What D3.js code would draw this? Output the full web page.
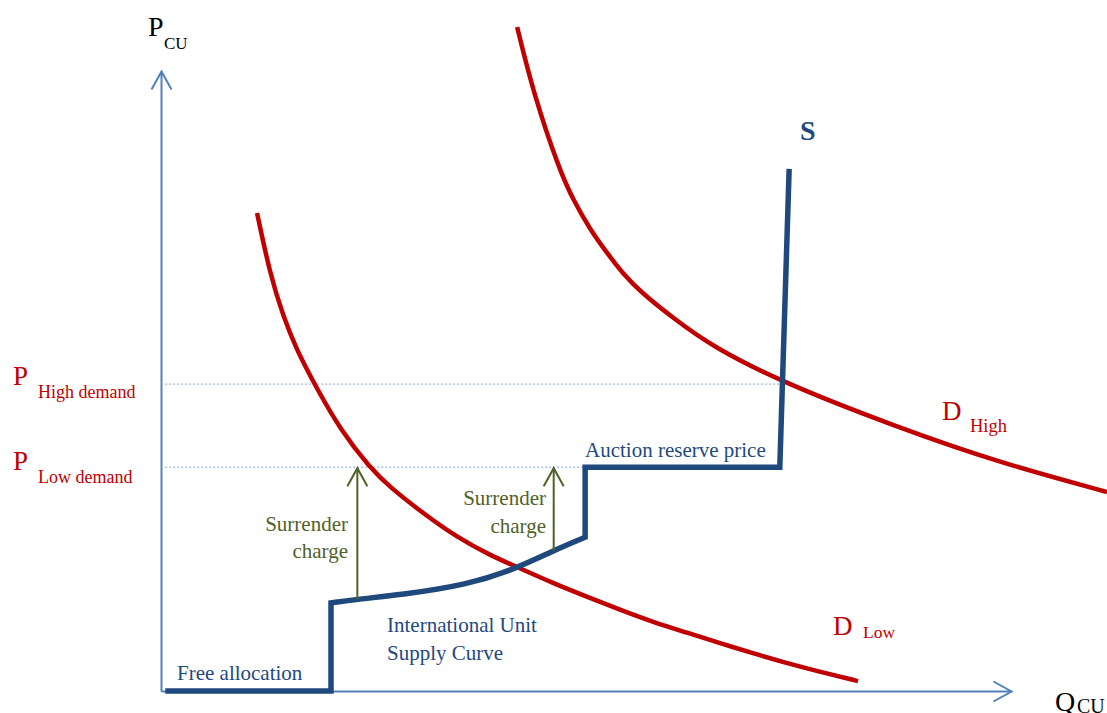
<!DOCTYPE html>
<html>
<head>
<meta charset="utf-8">
<script src="https://cdn.jsdelivr.net/npm/d3@7"></script>
<style>
  body { margin: 0; background: #fff; }
  svg { display: block; font-family: "Liberation Serif", "DejaVu Serif", serif; }
</style>
</head>
<body>
<svg id="chart" width="1107" height="713"></svg>
<script>
// demand curves (quantity, price) in chart units
const demandHigh = [[41.9,107.1],[43.8,96.5],[46.9,83.9],[48.5,79.2],[50.5,74.4],[52.5,70.6],
  [54.3,67.4],[56.4,64.4],[60.2,60.2],[64.9,55.5],[73.2,49.7],[86.9,42.4],[98.7,36.8],[111.3,32.1]];
const demandLow = [[11.3,77.1],[12.8,67.4],[14.4,60.3],[16.0,55.0],[17.2,51.8],[18.1,49.4],[21.1,42.1],
  [24.6,36.0],[26.9,32.9],[30.8,28.7],[34.8,24.8],[38.7,21.9],[42.2,19.8],[46.1,17.4],[50.1,15.2],
  [54.0,13.1],[57.9,11.1],[61.9,9.4],[65.8,7.7],[69.6,6.1],[73.6,4.5],[77.5,3.1],[82.0,1.6]];

// supply: free allocation step, international unit curve, auction reserve step
const freeAllocation = [[0.5,0],[20,0],[20,14.2]];
const intlSupply = [[20,14.2],[23.1,14.8],[28.1,15.5],[36,17.1],[41.9,19.8],[46.1,22.6],[49.9,24.8]];
const reserveStep = [[49.9,24.8],[49.9,36.1],[72.8,36.1],[73.9,84.2]];

// price levels and surrender charge arrows
const pHigh = 49.5, pLow = 36.1;
const guideEnds = [73.2, 49.9];
const surrender = [[23.1,14.8],[46.2,22.6]];

const svg = d3.select('#chart');

const x = d3.scaleLinear().domain([0, 100]).range([161, 1011]);
const y = d3.scaleLinear().domain([0, 100]).range([691, 71]);

const axisColor = '#4f81bd', red = '#c00000', navy = '#1f497d', green = '#4f6228';

// arrow markers
const defs = svg.append('defs');
function chevron(id, color) {
  defs.append('marker')
    .attr('id', id)
    .attr('viewBox', '-21 -12 23 24')
    .attr('refX', 0).attr('refY', 0)
    .attr('markerUnits', 'userSpaceOnUse')
    .attr('markerWidth', 23).attr('markerHeight', 24)
    .attr('orient', 'auto')
    .append('path')
    .attr('d', 'M-18,-10L0,0L-18,10')
    .attr('fill', 'none')
    .attr('stroke', color)
    .attr('stroke-width', 2);
}
chevron('axisHead', axisColor);
chevron('greenHead', green);

// guide lines
[pHigh, pLow].forEach((p, i) => {
  svg.append('line')
    .attr('x1', x(0.5)).attr('x2', x(guideEnds[i]))
    .attr('y1', y(p)).attr('y2', y(p))
    .attr('stroke', '#7aa3d4')
    .attr('stroke-width', 1)
    .attr('stroke-dasharray', '2,2');
});

// axes without ticks
const yAxis = svg.append('g')
  .attr('transform', `translate(${x(0)},0)`)
  .call(d3.axisLeft(y).tickValues([]).tickSizeOuter(0));
const xAxis = svg.append('g')
  .attr('transform', `translate(0,${y(0)})`)
  .call(d3.axisBottom(x).tickValues([]).tickSizeOuter(0));
[yAxis, xAxis].forEach(g => g.select('.domain')
  .attr('stroke', axisColor)
  .attr('stroke-width', 2)
  .attr('marker-end', 'url(#axisHead)'));

// demand curves
const smooth = d3.line().x(d => x(d[0])).y(d => y(d[1])).curve(d3.curveBasis);
const straight = d3.line().x(d => x(d[0])).y(d => y(d[1]));

[demandLow, demandHigh].forEach(data => {
  svg.append('path')
    .attr('d', smooth(data))
    .attr('fill', 'none')
    .attr('stroke', red)
    .attr('stroke-width', 4.5);
});

// supply curve as one path
const supplyPath = straight(freeAllocation)
  + smooth(intlSupply).replace(/^M/, 'L')
  + straight(reserveStep).replace(/^M/, 'L');
svg.append('path')
  .attr('d', supplyPath)
  .attr('fill', 'none')
  .attr('stroke', navy)
  .attr('stroke-width', 5.5)
  .attr('stroke-linejoin', 'miter');

// surrender charge arrows
surrender.forEach(d => {
  svg.append('line')
    .attr('x1', x(d[0])).attr('x2', x(d[0]))
    .attr('y1', y(d[1])).attr('y2', y(pLow) + 1)
    .attr('stroke', green)
    .attr('stroke-width', 2)
    .attr('marker-end', 'url(#greenHead)');
});

// labels
function label(tx, ty, text, size, color, anchor, weight) {
  return svg.append('text')
    .attr('x', tx).attr('y', ty)
    .attr('font-size', size)
    .attr('fill', color)
    .attr('text-anchor', anchor || 'start')
    .attr('font-weight', weight || 'normal')
    .text(text);
}

label(148, 36, 'P', 28, '#000');
label(164, 49, 'CU', 17, '#000');
label(1055, 711, 'Q', 28, '#000');
label(1077, 713, 'CU', 20, '#000');

label(13, 385, 'P', 27, red);
label(38, 398, 'High demand', 18, red);
label(13, 470, 'P', 27, red);
label(38, 483, 'Low demand', 18, red);

label(348, 531, 'Surrender', 21, green, 'end');
label(348, 558, 'charge', 21, green, 'end');
label(546, 505, 'Surrender', 21, green, 'end');
label(546, 533, 'charge', 21, green, 'end');

label(585, 457, 'Auction reserve price', 21, navy);
label(177, 680, 'Free allocation', 21, navy);
label(387, 632, 'International Unit', 21, navy);
label(387, 660, 'Supply Curve', 21, navy);
label(800, 140, 'S', 28, navy, 'start', 'bold');

label(942, 420, 'D', 27, red);
label(970, 432, 'High', 18.5, red);
label(833, 635, 'D', 27, red);
label(863, 638, 'Low', 17.5, red);
</script>
</body>
</html>
